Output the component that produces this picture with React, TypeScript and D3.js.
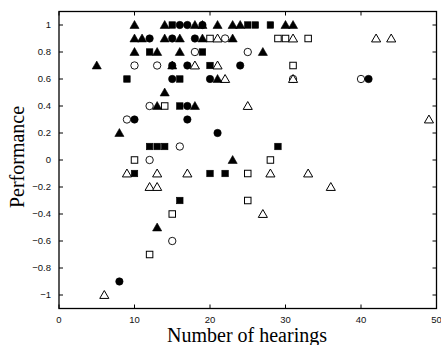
import { useEffect, useRef } from 'react'
import * as d3 from 'd3'

type Pt = [number, number]

// [hearings, performance]
const filledTriangles: Pt[] = [
  [10, 1], [14, 1], [18, 1], [19, 1], [21, 1], [23, 1], [24, 1], [30, 1], [31, 1],
  [10, 0.9], [11, 0.9], [14, 0.9], [16, 0.9], [19, 0.9], [23, 0.9],
  [10, 0.8], [13, 0.8], [16, 0.8], [27, 0.8],
  [5, 0.7], [15, 0.7], [21, 0.6], [14, 0.5], [13, 0.4], [18, 0.4],
  [8, 0.2], [23, 0], [13, -0.5]
]
const filledSquares: Pt[] = [
  [15, 1], [25, 1], [26, 1], [28, 1], [12, 0.8], [19, 0.8], [20, 0.7],
  [9, 0.6], [16, 0.6], [16, 0.4], [12, 0.1], [13, 0.1], [14, 0.1], [29, 0.1],
  [10, -0.1], [20, -0.1], [22, -0.1], [16, -0.3]
]
const filledCircles: Pt[] = [
  [16, 1], [17, 1], [19, 1], [12, 0.9], [15, 0.9], [18, 0.9], [15, 0.7], [17, 0.7],
  [24, 0.7], [15, 0.6], [20, 0.6], [41, 0.6], [17, 0.4], [10, 0.3], [17, 0.3],
  [21, 0.2], [8, -0.9]
]
const openCircles: Pt[] = [
  [22, 0.9], [18, 0.8], [25, 0.8], [10, 0.7], [13, 0.7], [31, 0.6], [40, 0.6],
  [12, 0.4], [9, 0.3], [16, 0.1], [12, 0], [15, -0.6]
]
const openSquares: Pt[] = [
  [20, 0.9], [29, 0.9], [30, 0.9], [33, 0.9], [31, 0.7], [14, 0.4], [10, 0],
  [28, 0], [25, -0.1], [25, -0.3], [15, -0.4], [12, -0.7]
]
const openTriangles: Pt[] = [
  [21, 0.9], [31, 0.9], [42, 0.9], [44, 0.9], [18, 0.7], [21, 0.7], [22, 0.6],
  [31, 0.6], [25, 0.4], [49, 0.3], [9, -0.1], [13, -0.1], [17, -0.1], [28, -0.1],
  [33, -0.1], [12, -0.2], [13, -0.2], [36, -0.2], [27, -0.4], [6, -1]
]

const xTicks = [0, 10, 20, 30, 40, 50]
const yTicks = [-1, -0.8, -0.6, -0.4, -0.2, 0, 0.2, 0.4, 0.6, 0.8, 1]

export default function App() {
  const svgRef = useRef<SVGSVGElement>(null)

  useEffect(() => {
    if (!svgRef.current) return
    const svg = d3.select(svgRef.current)
    svg.selectAll('*').remove()

    const W = 441
    const H = 345
    const left = 59, right = 436.5, top = 11.5, bottom = 308.5

    const x = d3.scaleLinear().domain([0, 50]).range([left, right])
    const y = d3.scaleLinear().domain([-1.1, 1.1]).range([bottom, top])

    svg.append('rect').attr('width', W).attr('height', H).attr('fill', '#fff')

    const fmt = (v: number) => {
      const s = d3.format('~g')(Math.abs(v))
      return v < 0 ? '\u2212' + s : s
    }

    // ticks (inward, all sides)
    const tl = 4
    const g = svg.append('g').attr('stroke', '#000').attr('stroke-width', 1)
    xTicks.forEach(t => {
      g.append('line').attr('x1', x(t)).attr('x2', x(t)).attr('y1', bottom).attr('y2', bottom - tl)
      g.append('line').attr('x1', x(t)).attr('x2', x(t)).attr('y1', top).attr('y2', top + tl)
    })
    yTicks.forEach(t => {
      g.append('line').attr('x1', left).attr('x2', left + tl).attr('y1', y(t)).attr('y2', y(t))
      g.append('line').attr('x1', right).attr('x2', right - tl).attr('y1', y(t)).attr('y2', y(t))
    })

    svg.append('g')
      .selectAll('text')
      .data(xTicks)
      .enter()
      .append('text')
      .attr('x', d => x(d))
      .attr('y', 323)
      .attr('text-anchor', 'middle')
      .attr('font-family', '"Liberation Sans", Arial, sans-serif')
      .attr('font-size', '9.5px')
      .attr('fill', '#111')
      .text(d => d)

    svg.append('g')
      .selectAll('text')
      .data(yTicks)
      .enter()
      .append('text')
      .attr('x', 51)
      .attr('y', d => y(d) + 3.3)
      .attr('text-anchor', 'end')
      .attr('font-family', '"Liberation Sans", Arial, sans-serif')
      .attr('font-size', '9.5px')
      .attr('fill', '#111')
      .text(d => fmt(d))

    // markers
    const pts = svg.append('g')
    const tri = d3.symbol().type(d3.symbolTriangle).size(36)
    const sq = 6.5
    const r = 3.7

    const drawTri = (data: Pt[], filled: boolean) => {
      pts.selectAll(null)
        .data(data)
        .enter()
        .append('path')
        .attr('d', tri()!)
        .attr('transform', d => `translate(${x(d[0])},${y(d[1]) + 0.8})`)
        .attr('fill', filled ? '#000' : '#fff')
        .attr('stroke', '#000')
        .attr('stroke-width', filled ? 0.6 : 1)
    }
    const drawSq = (data: Pt[], filled: boolean) => {
      pts.selectAll(null)
        .data(data)
        .enter()
        .append('rect')
        .attr('x', d => x(d[0]) - sq / 2)
        .attr('y', d => y(d[1]) - sq / 2)
        .attr('width', sq)
        .attr('height', sq)
        .attr('fill', filled ? '#000' : '#fff')
        .attr('stroke', '#000')
        .attr('stroke-width', filled ? 0.6 : 1)
    }
    const drawCirc = (data: Pt[], filled: boolean) => {
      pts.selectAll(null)
        .data(data)
        .enter()
        .append('circle')
        .attr('cx', d => x(d[0]))
        .attr('cy', d => y(d[1]))
        .attr('r', r)
        .attr('fill', filled ? '#000' : '#fff')
        .attr('stroke', '#000')
        .attr('stroke-width', filled ? 0.6 : 0.9)
    }

    drawSq(openSquares, false)
    drawCirc(openCircles, false)
    drawTri(openTriangles, false)
    drawSq(filledSquares, true)
    drawCirc(filledCircles, true)
    drawTri(filledTriangles, true)

    // frame
    svg.append('rect')
      .attr('x', left)
      .attr('y', top)
      .attr('width', right - left)
      .attr('height', bottom - top)
      .attr('fill', 'none')
      .attr('stroke', '#000')
      .attr('stroke-width', 1.3)

    // axis titles
    svg.append('text')
      .attr('x', 247)
      .attr('y', 342)
      .attr('text-anchor', 'middle')
      .attr('font-family', '"Liberation Serif", "Times New Roman", serif')
      .attr('font-size', '20px')
      .text('Number of hearings')

    svg.append('text')
      .attr('transform', `translate(24,${157}) rotate(-90)`)
      .attr('text-anchor', 'middle')
      .attr('font-family', '"Liberation Serif", "Times New Roman", serif')
      .attr('font-size', '20px')
      .text('Performance')
  }, [])

  return (
    <div style={{ position: 'fixed', left: 0, top: 0 }}>
      <svg ref={svgRef} width={441} height={345} style={{ display: 'block' }} />
    </div>
  )
}
